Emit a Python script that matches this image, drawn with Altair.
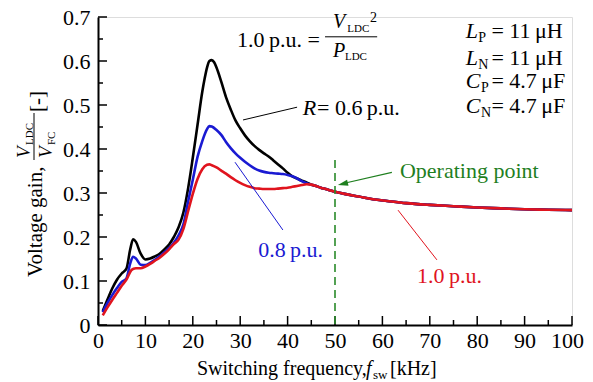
import altair as alt
import pandas as pd

FONT = "Liberation Serif, Times New Roman, Times, serif"

# ---------------- data ----------------
freq_black = [1, 2, 3, 4, 5, 6, 6.8, 7.4, 8, 9, 10, 11, 12, 13, 14, 15, 16, 17, 18, 19, 20, 21, 22, 22.5, 23, 23.5,
              24, 24.5, 25, 26, 27, 28, 29, 30, 31, 32, 33, 34, 35, 36, 37, 38, 39, 40, 41, 42, 43, 44]
gain_black = [0.032, 0.058, 0.083, 0.103, 0.117, 0.128, 0.172, 0.195, 0.189, 0.162, 0.149, 0.151, 0.156, 0.162,
              0.172, 0.183, 0.2, 0.222, 0.255, 0.31, 0.38, 0.455, 0.53, 0.56, 0.585, 0.6,
              0.602, 0.597, 0.585, 0.553, 0.518, 0.49, 0.465, 0.447, 0.431, 0.418, 0.407, 0.398, 0.39, 0.383,
              0.374, 0.365, 0.356, 0.346, 0.338, 0.333, 0.328, 0.324]

freq_blue = [1, 2, 3, 4, 5, 6, 6.8, 7.4, 8, 9, 10, 11, 12, 13, 14, 15, 16, 17, 18, 19, 20, 21, 22, 23, 23.5, 24,
             25, 26, 27, 28, 29, 30, 31, 32, 33, 34, 35, 36, 37, 38, 39, 40, 41, 42, 43, 44]
gain_blue = [0.029, 0.05, 0.068, 0.084, 0.098, 0.106, 0.14, 0.155, 0.151, 0.137, 0.136, 0.141, 0.148, 0.156,
             0.165, 0.175, 0.187, 0.204, 0.228, 0.28, 0.33, 0.382, 0.418, 0.445, 0.452, 0.451,
             0.443, 0.432, 0.416, 0.402, 0.39, 0.38, 0.371, 0.363, 0.356, 0.351, 0.348, 0.346, 0.345, 0.344,
             0.343, 0.341, 0.338, 0.333, 0.327, 0.322]

freq_red = [1, 2, 3, 4, 5, 6, 7, 7.5, 8, 9, 10, 11, 12, 13, 14, 15, 16, 17, 18, 19, 20, 21, 22, 23, 23.5, 24,
            25, 26, 27, 28, 29, 30, 31, 32, 33, 34, 35, 36, 37, 38, 39, 40, 41, 42, 43, 44]
gain_red = [0.022, 0.04, 0.057, 0.073, 0.089, 0.103, 0.124, 0.128, 0.129, 0.129, 0.133, 0.139, 0.146, 0.153,
            0.162, 0.172, 0.184, 0.194, 0.218, 0.258, 0.298, 0.332, 0.354, 0.364, 0.365, 0.363,
            0.358, 0.351, 0.344, 0.336, 0.329, 0.323, 0.318, 0.314, 0.311, 0.31, 0.309, 0.309, 0.309, 0.31,
            0.311, 0.312, 0.314, 0.316, 0.318, 0.32]

# common high-frequency part (all three loads coincide)
freq_tail = [45, 46, 47, 48, 50, 52, 55, 58, 61, 65, 70, 75, 80, 85, 90, 95, 100]
gain_tail = [0.319, 0.316, 0.312, 0.309, 0.303, 0.298, 0.292, 0.286, 0.282, 0.277, 0.273, 0.27, 0.267, 0.265,
             0.263, 0.262, 0.261]

series_names = ["0.6 p.u.", "0.8 p.u.", "1.0 p.u."]
series_colors = ["#000000", "#1a1ad2", "#e0141e"]

x_major = [0, 10, 20, 30, 40, 50, 60, 70, 80, 90, 100]
x_minor = [5, 15, 25, 35, 45, 55, 65, 75, 85, 95]
y_major = [0, 0.1, 0.2, 0.3, 0.4, 0.5, 0.6, 0.7]
y_minor = [0.05, 0.15, 0.25, 0.35, 0.45, 0.55, 0.65]

op_freq = 50
op_top = 0.375

W, H = 474, 308

xs = alt.Scale(domain=[0, 100], nice=False, zero=False)
ys = alt.Scale(domain=[0, 0.7], nice=False)

x_axis = alt.Axis(values=x_major, ticks=False, labelFont=FONT, labelFontSize=22,
                  labelPadding=5, labelColor="black", domainColor="black", domainWidth=2,
                  grid=False, title=None, labelFlush=False, labelOverlap=False,
                  labelOffset=alt.ExprRef("datum.value == 100 ? -5 : 0"))
y_axis = alt.Axis(values=y_major, ticks=False, labelFont=FONT, labelFontSize=22,
                  labelPadding=8, labelColor="black", domainColor="black", domainWidth=2,
                  grid=False, title=None, labelFlush=False, labelOverlap=False,
                  labelExpr="datum.value == 0 ? '0' : format(datum.value, '.1f')")

X = lambda field: alt.X(field, scale=xs, axis=x_axis)
Y = lambda field: alt.Y(field, scale=ys, axis=y_axis)


def series_df(fr, gn, name):
    return pd.DataFrame({"f": fr + freq_tail, "v": gn + gain_tail, "s": name})


def line_layer(df, color):
    return alt.Chart(df).mark_line(color=color, strokeWidth=2.6, interpolate="monotone").encode(
        x=X("f:Q"), y=Y("v:Q"))


def seg(f1, v1, f2, v2, color, width=1.0):
    df = pd.DataFrame({"f": [f1], "v": [v1], "f2": [f2], "v2": [v2]})
    return alt.Chart(df).mark_rule(color=color, strokeWidth=width).encode(
        x=X("f:Q"), y=Y("v:Q"), x2="f2:Q", y2="v2:Q")


def dtext(f, v, s, size=22, color="black", italic=False, align="left"):
    df = pd.DataFrame({"f": [f], "v": [v]})
    return alt.Chart(df).mark_text(text=s, font=FONT, fontSize=size,
                                   fontStyle="italic" if italic else "normal",
                                   color=color, align=align, baseline="alphabetic").encode(
        x=X("f:Q"), y=Y("v:Q"))


dummy = pd.DataFrame({"a": [0]})


def ptext(px, py, s, size=21, italic=False, angle=0, color="black"):
    # px, py : page pixel coordinates, converted to plot-relative
    return alt.Chart(dummy).mark_text(text=s, font=FONT, fontSize=size,
                                      fontStyle="italic" if italic else "normal",
                                      color=color, align="left", baseline="alphabetic",
                                      angle=angle).encode(
        x=alt.value(px - 98), y=alt.value(py - 17))


def prule(x1, y1, x2, y2, width=1.0):
    return alt.Chart(dummy).mark_rule(color="black", strokeWidth=width).encode(
        x=alt.value(x1 - 98), y=alt.value(y1 - 17), x2=alt.value(x2 - 98), y2=alt.value(y2 - 17))


layers = []
layers.append(line_layer(series_df(freq_black, gain_black, series_names[0]), series_colors[0]))
layers.append(line_layer(series_df(freq_blue, gain_blue, series_names[1]), series_colors[1]))
layers.append(line_layer(series_df(freq_red, gain_red, series_names[2]), series_colors[2]))


# inward ticks
def xticks(vals, length):
    return alt.Chart(pd.DataFrame({"f": vals})).mark_rule(color="black", strokeWidth=1.5).encode(
        x=X("f:Q"), y=alt.value(H), y2=alt.value(H - length))


def yticks(vals, length):
    return alt.Chart(pd.DataFrame({"v": vals})).mark_rule(color="black", strokeWidth=1.5).encode(
        y=Y("v:Q"), x=alt.value(0), x2=alt.value(length))


layers += [xticks(x_major, 9), xticks(x_minor, 5), yticks(y_major, 9), yticks(y_minor, 5)]

# operating point
green = "#1f7f1f"
layers.append(alt.Chart(pd.DataFrame({"f": [op_freq], "v": [op_top], "v0": [0]})).mark_rule(
    color="#2a8a2a", strokeWidth=1.6, strokeDash=[8, 5]).encode(
    x=X("f:Q"), y=Y("v:Q"), y2="v0:Q"))
layers.append(seg(62.0, 0.347, 51.5, 0.321, green, 1.2))
layers.append(alt.Chart(pd.DataFrame({"f": [50.6], "v": [0.318]})).mark_point(
    shape="M0,0L-1,-0.3L-1,0.3Z", size=420, filled=True, opacity=1, color=green, angle=166.5).encode(
    x=X("f:Q"), y=Y("v:Q")))
layers.append(dtext(63.7, 0.334, "Operating point", 22, green))

# leader lines and labels
layers.append(seg(30.6, 0.466, 42.0, 0.495, "black", 1.0))
layers.append(dtext(43.2, 0.477, "R", 22, "black", italic=True))
layers.append(dtext(46.2, 0.477, "= 0.6\u2009p.u.", 22, "black"))
layers.append(seg(28.9, 0.370, 39.0, 0.216, series_colors[1], 1.0))
layers.append(dtext(33.8, 0.155, "0.8\u2009p.u.", 22, series_colors[1]))
layers.append(seg(63.3, 0.261, 71.5, 0.148, series_colors[2], 1.0))
layers.append(dtext(67.3, 0.095, "1.0\u2009p.u.", 22, series_colors[2]))

# formula 1.0 p.u. = V_LDC^2 / P_LDC
layers.append(dtext(46.8, 0.632, "1.0\u2009p.u. =", 22, "black", align="right"))
layers.append(seg(47.9, 0.655, 58.9, 0.655, "black", 1.0))
layers.append(dtext(49.6, 0.675, "V", 20, italic=True))
layers.append(dtext(52.6, 0.666, "LDC", 11))
layers.append(dtext(57.4, 0.689, "2", 14))
layers.append(dtext(49.6, 0.609, "P", 20, italic=True))
layers.append(dtext(52.1, 0.602, "LDC", 11))

# component values
rows = [("L", "P", "= 11\u2009\u03bcH", 0.652, 80.2),
        ("L", "N", "= 11\u2009\u03bcH", 0.591, 80.2),
        ("C", "P", "= 4.7\u2009\u03bcF", 0.539, 80.8),
        ("C", "N", "= 4.7\u2009\u03bcF", 0.482, 80.8)]
for sym, sub, rest, v, fsub in rows:
    layers.append(dtext(77.6, v, sym, 22, italic=True))
    layers.append(dtext(fsub, v - 0.009, sub, 14))
    layers.append(dtext(83.0, v, rest, 22))

# x axis title
layers.append(ptext(197, 375, "Switching frequency,", 20))
layers.append(ptext(366, 375, "f", 20, italic=True))
layers.append(ptext(373, 379, "sw", 13))
layers.append(ptext(390, 375, "[kHz]", 20))

# y axis title (rotated)
layers.append(ptext(42, 277, "Voltage gain,", 21, angle=270))
layers.append(ptext(30, 158, "V", 19, italic=True, angle=270))
layers.append(ptext(33, 145, "LDC", 11, angle=270))
layers.append(prule(34, 113, 34, 160, 1.0))
layers.append(ptext(52, 158, "V", 19, italic=True, angle=270))
layers.append(ptext(55, 145, "FC", 11, angle=270))
layers.append(ptext(44, 112, "[-]", 21, angle=270))

chart = alt.layer(*layers).properties(
    width=W, height=H,
    autosize=alt.AutoSizeParams(type="none"),
    padding={"left": 90, "top": 9, "right": 13, "bottom": 57},
).configure_view(strokeOpacity=0).configure(background="white")

chart.save("out.html", embed_options={"renderer": "svg", "actions": False})
